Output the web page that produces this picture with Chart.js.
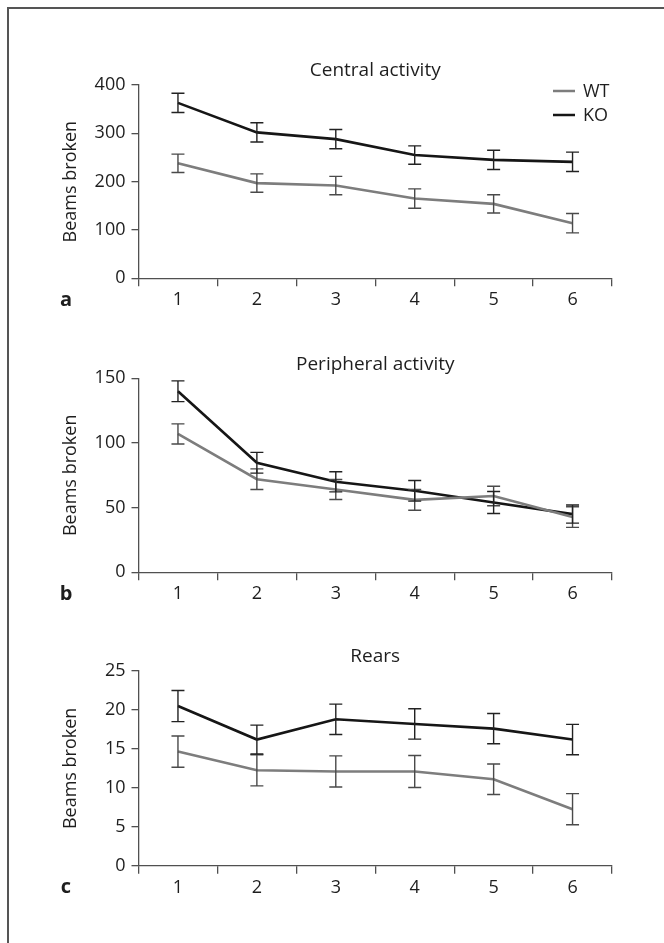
<!DOCTYPE html>
<html>
<head>
<meta charset="utf-8">
<script src="https://cdn.jsdelivr.net/npm/chart.js@4.4.1/dist/chart.umd.min.js"></script>
<style>
  html, body { margin: 0; padding: 0; background: #fff; }
  body { width: 664px; height: 943px; position: relative; overflow: hidden; }
  #frame { position: absolute; left: 7px; top: 7px; width: 720px; height: 1000px;
           border-left: 2px solid #555; border-top: 2px solid #555; }
  canvas { position: absolute; left: 0; }
</style>
</head>
<body>
<div id="frame"></div>
<canvas id="chartA" width="664" height="320" style="top:0px"></canvas>
<canvas id="chartB" width="664" height="320" style="top:300px"></canvas>
<canvas id="chartC" width="664" height="343" style="top:600px"></canvas>
<script>
  "use strict";

  // x categories (session)
  var sessions = ["1", "2", "3", "4", "5", "6"];

  // Central activity
  var centralWT = [238, 197, 192, 165, 154, 114];
  var centralWTErr = [19, 19, 19, 20, 19, 20];
  var centralKO = [363, 302, 288, 255, 245, 241];
  var centralKOErr = [20, 20, 20, 19, 20, 20];

  // Peripheral activity
  var periphWT = [107, 72, 64, 56, 59, 42.7];
  var periphWTErr = [7.8, 8, 7.7, 8, 7.5, 8];
  var periphKO = [140, 84.7, 70, 63, 54, 45];
  var periphKOErr = [8, 8, 7.8, 8, 8.5, 7];

  // Rears
  var rearsWT = [14.65, 12.25, 12.1, 12.1, 11.1, 7.25];
  var rearsWTErr = [2, 2, 2, 2.05, 1.95, 2];
  var rearsKO = [20.5, 16.2, 18.8, 18.2, 17.6, 16.2];
  var rearsKOErr = [2, 1.85, 1.95, 1.95, 1.95, 1.95];

  var FONT = "'Open Sans', 'Noto Sans', sans-serif";
  var TEXT = "#1e1e1e";
  var AXIS = "#505050";
  var WT_COLOR = "#7d7d7d";
  var KO_COLOR = "#161616";

  // draws the SEM whiskers with the chart's own scales
  var errorBars = {
    id: "errorBars",
    afterDatasetsDraw: function (chart) {
      var ctx = chart.ctx;
      var xs = chart.scales.x, ys = chart.scales.y;
      chart.data.datasets.forEach(function (ds) {
        ctx.save();
        ctx.strokeStyle = ds.errColor;
        ctx.lineWidth = 1.4;
        ds.data.forEach(function (v, i) {
          var px = xs.getPixelForValue(i);
          var top = ys.getPixelForValue(v + ds.err[i]);
          var bot = ys.getPixelForValue(v - ds.err[i]);
          ctx.beginPath();
          ctx.moveTo(px, top); ctx.lineTo(px, bot);
          ctx.moveTo(px - 6.5, top); ctx.lineTo(px + 6.5, top);
          ctx.moveTo(px - 6.5, bot); ctx.lineTo(px + 6.5, bot);
          ctx.stroke();
        });
        ctx.restore();
      });
    }
  };

  // panel title, panel letter and (first panel) legend
  var panelText = {
    id: "panelText",
    afterDraw: function (chart, args, opts) {
      var ctx = chart.ctx, area = chart.chartArea;
      ctx.save();
      ctx.fillStyle = TEXT;
      ctx.textBaseline = "middle";
      ctx.textAlign = "center";
      ctx.font = "19px " + FONT;
      ctx.fillText(opts.title, (area.left + area.right) / 2, area.top - 14);

      ctx.font = "bold 20px " + FONT;
      ctx.fillText(opts.letter, 66, area.bottom + 22);

      if (opts.legend) {
        ctx.textAlign = "left";
        ctx.font = "18px " + FONT;
        chart.data.datasets.forEach(function (ds, i) {
          var ly = 91 + i * 24;
          ctx.strokeStyle = ds.borderColor;
          ctx.lineWidth = 2.5;
          ctx.beginPath();
          ctx.moveTo(553, ly); ctx.lineTo(575, ly);
          ctx.stroke();
          ctx.fillStyle = TEXT;
          ctx.fillText(ds.label, 583, ly + 1);
        });
      }
      ctx.restore();
    }
  };

  function makePanel(id, canvasTop, areaTop, areaBottom, yMax, yStep, wt, wtErr, ko, koErr, title, letter, legend) {
    var canvas = document.getElementById(id);
    var H = canvas.height;
    var xAxisH = 30;
    return new Chart(canvas.getContext("2d"), {
      type: "line",
      data: {
        labels: sessions,
        datasets: [
          { label: "WT", data: wt, err: wtErr, errColor: "#4a4a4a",
            borderColor: WT_COLOR, borderWidth: 2.6, pointRadius: 0, tension: 0, fill: false },
          { label: "KO", data: ko, err: koErr, errColor: "#222222",
            borderColor: KO_COLOR, borderWidth: 2.6, pointRadius: 0, tension: 0, fill: false }
        ]
      },
      plugins: [errorBars, panelText],
      options: {
        responsive: false,
        animation: false,
        devicePixelRatio: 1,
        layout: {
          padding: { left: 0, right: 52, top: areaTop - canvasTop,
                     bottom: H - (areaBottom - canvasTop) - xAxisH }
        },
        plugins: {
          legend: { display: false },
          tooltip: { enabled: false },
          panelText: { title: title, letter: letter, legend: legend }
        },
        scales: {
          x: {
            type: "category",
            offset: true,
            afterFit: function (s) { s.height = xAxisH; },
            grid: { offset: true, drawOnChartArea: false, tickLength: 8, color: AXIS, lineWidth: 1.3 },
            border: { color: AXIS, width: 1.3 },
            ticks: { padding: 3, color: TEXT, font: { family: FONT, size: 18 } }
          },
          y: {
            min: 0,
            max: yMax,
            afterFit: function (s) { s.width = 138.5; },
            grid: { drawOnChartArea: false, tickLength: 7, color: AXIS, lineWidth: 1.3 },
            border: { color: AXIS, width: 1.3 },
            ticks: { stepSize: yStep, padding: 6, color: TEXT, font: { family: FONT, size: 18 } },
            title: { display: true, text: "Beams broken", color: TEXT,
                     font: { family: FONT, size: 18 }, padding: { top: 60, bottom: 0 } }
          }
        }
      }
    });
  }

  makePanel("chartA", 0, 85, 278.3, 400, 100, centralWT, centralWTErr, centralKO, centralKOErr,
            "Central activity", "a", true);
  makePanel("chartB", 300, 378.3, 572.3, 150, 50, periphWT, periphWTErr, periphKO, periphKOErr,
            "Peripheral activity", "b", false);
  makePanel("chartC", 600, 671, 865.7, 25, 5, rearsWT, rearsWTErr, rearsKO, rearsKOErr,
            "Rears", "c", false);
</script>
</body>
</html>
